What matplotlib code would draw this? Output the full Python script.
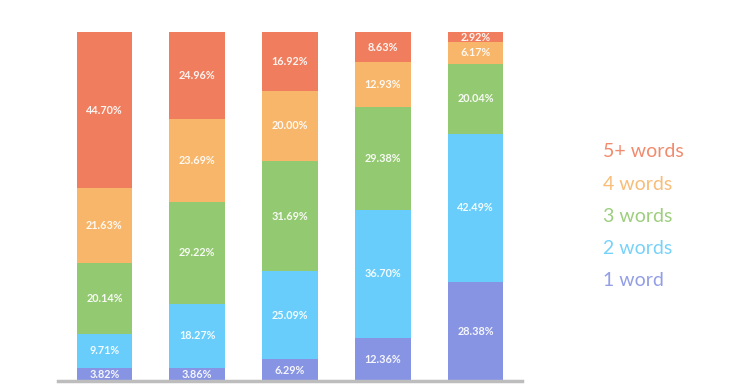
import numpy as np
import matplotlib.pyplot as plt

# datos de cada barra (de abajo hacia arriba)
series = ['1 word', '2 words', '3 words', '4 words', '5+ words']
one_word = [3.82, 3.86, 6.29, 12.36, 28.38]
two_words = [9.71, 18.27, 25.09, 36.70, 42.49]
three_words = [20.14, 29.22, 31.69, 29.38, 20.04]
four_words = [21.63, 23.69, 20.00, 12.93, 6.17]
five_words = [44.70, 24.96, 16.92, 8.63, 2.92]
colores = ['#8794E3', '#68CDFA', '#93C970', '#F7B66A', '#F07E5E']

plt.rcParams['font.family'] = ['Lato', 'DejaVu Sans']

fig = plt.figure(figsize=(7.5, 3.9), dpi=100)
ax = fig.add_axes([58/750, (390-381)/390, (522-58)/750, (381-32)/390])

valores = [one_word, two_words, three_words, four_words, five_words]
x = np.arange(len(one_word))
base = np.zeros(len(x))
for vals, col in zip(valores, colores):
    vals = np.array(vals)
    ax.bar(x, vals, width=0.6, bottom=base, color=col, linewidth=0)
    for xi, b, v in zip(x, base, vals):
        ax.text(xi, b + v/2, '%.2f%%' % v, ha='center', va='center',
                color='white', fontsize=7.8, fontweight='bold', alpha=0.92)
    base = base + vals

ax.set_xlim(-0.5, 4.5)
ax.set_ylim(0, 100)
ax.set_xticks([])
ax.set_yticks([])
for s in ['top', 'right', 'left']:
    ax.spines[s].set_visible(False)
ax.spines['bottom'].set_color('#BDBDBD')
ax.spines['bottom'].set_linewidth(2.5)

# leyenda como texto
ys = [152, 184, 216, 249, 281]
for nombre, col, yy in zip(series[::-1], colores[::-1], ys):
    fig.text(603/750, 1 - yy/390, nombre, color=col, fontsize=14,
             ha='left', va='center', alpha=0.9)

fig.savefig('out.png', dpi=100)
